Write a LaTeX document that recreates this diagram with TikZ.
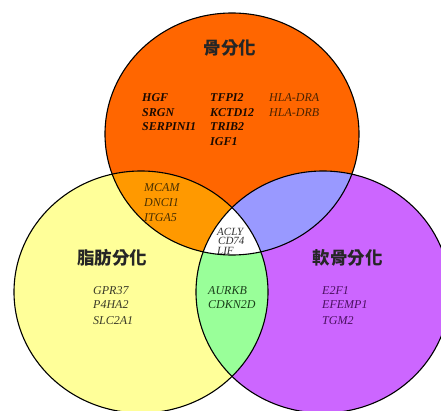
\documentclass[tikz,border=0pt]{standalone}
\usepackage{fontspec}
\setmainfont{Liberation Serif}
\newfontfamily\cjk{Noto Sans CJK TC}
\definecolor{cOrange}{HTML}{FF6600}
\definecolor{cAmber}{HTML}{FF9900}
\definecolor{cYellow}{HTML}{FFFF99}
\definecolor{cPurple}{HTML}{CC66FF}
\definecolor{cBlue}{HTML}{9999FF}
\definecolor{cGreen}{HTML}{99FF99}
\definecolor{tTop}{HTML}{1A0A00}
\definecolor{tHla}{HTML}{4A2200}
\definecolor{tAmb}{HTML}{4A3000}
\definecolor{tYel}{HTML}{3A3A28}
\definecolor{tPur}{HTML}{4A1060}
\definecolor{tGrn}{HTML}{1A401A}
\definecolor{tMid}{HTML}{333333}
\tikzset{
  gene/.style={anchor=base west, inner sep=0pt, font=\fontsize{12}{12}\selectfont\itshape},
  bgene/.style={gene, font=\fontsize{12}{12}\selectfont\bfseries\itshape, text=tTop},
  cgene/.style={gene, text=tMid, font=\fontsize{11}{11}\selectfont\itshape, text height=7.2pt, text depth=0pt},
  title/.style={inner sep=0pt, font=\cjk\bfseries\fontsize{17.5}{18}\selectfont, text=black!85},
  ring/.style={draw=black, line width=1.1pt}
}
\begin{document}
\begin{tikzpicture}[x=1pt,y=-1pt]
\useasboundingbox (0,0) rectangle (441,411);
\def\topE{(232,134) ellipse [x radius=127, y radius=121]}
\def\leftE{(141,292) ellipse [x radius=127, y radius=121]}
\def\rightE{(323,292) ellipse [x radius=127, y radius=121]}
\begin{scope}
\clip (0,0) rectangle (441,411);
\fill[cOrange] \topE;
\fill[cYellow] \leftE;
\fill[cPurple] \rightE;
\begin{scope}\clip \topE; \fill[cAmber] \leftE; \end{scope}
\begin{scope}\clip \topE; \fill[cBlue] \rightE; \end{scope}
\begin{scope}\clip \leftE; \fill[cGreen] \rightE; \end{scope}
\begin{scope}\clip \topE; \clip \leftE; \fill[white] \rightE; \end{scope}
\draw[ring] \topE;
\draw[ring] \leftE;
\draw[ring] \rightE;
\end{scope}
% titles
\node[title] (tBone) at (230,47.5) {骨分化};
\node[title] (tFat) at (112,258) {脂肪分化};
\node[title] (tCart) at (347.5,258) {軟骨分化};
% bone genes
\node[bgene] (g1) at (142,102) {HGF};
\node[bgene] (g2) at (142,116.5) {SRGN};
\node[bgene] (g3) at (142,131) {SERPINI1};
\node[bgene] (g4) at (210,102) {TFPI2};
\node[bgene] (g5) at (210,116.5) {KCTD12};
\node[bgene] (g6) at (210,131) {TRIB2};
\node[bgene] (g7) at (210,146) {IGF1};
\node[gene,text=tHla] (g8) at (269,102) {HLA-DRA};
\node[gene,text=tHla] (g9) at (269,116.5) {HLA-DRB};
% bone & fat
\node[gene,text=tAmb] (h1) at (144,192) {MCAM};
\node[gene,text=tAmb] (h2) at (144,206.7) {DNCI1};
\node[gene,text=tAmb] (h3) at (144,222) {ITGA5};
% centre
\node[cgene] (c1) at (217,235.5) {ACLY};
\node[cgene] (c2) at (218,245) {CD74};
\node[cgene] (c3) at (217,254.5) {LIF};
% fat
\node[gene,text=tYel] (f1) at (93,294) {GPR37};
\node[gene,text=tYel] (f2) at (93,308.5) {P4HA2};
\node[gene,text=tYel] (f3) at (93,324) {SLC2A1};
% fat & cartilage
\node[gene,text=tGrn] (k1) at (208,294) {AURKB};
\node[gene,text=tGrn] (k2) at (208,308.5) {CDKN2D};
% cartilage
\node[gene,text=tPur] (p1) at (322,294) {E2F1};
\node[gene,text=tPur] (p2) at (322,308.5) {EFEMP1};
\node[gene,text=tPur] (p3) at (322,324) {TGM2};
\end{tikzpicture}
\end{document}
